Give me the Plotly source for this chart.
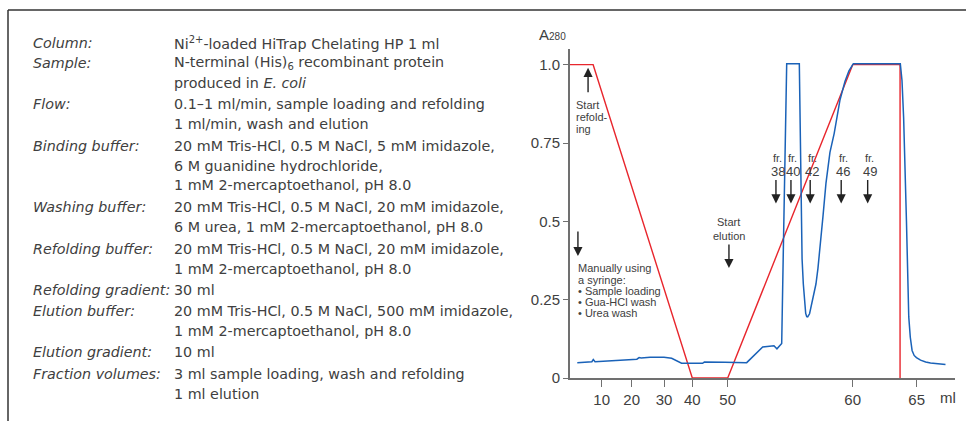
import numpy as np
import plotly.graph_objects as go

# ---------------- data ----------------
# broken (piecewise) x scale: ml -> axis units
X_BREAK_ML = [0, 10, 20, 30, 40, 50, 60, 65]
X_BREAK_POS = [0, 31.7, 61.7, 94, 122.3, 157.7, 282.7, 346.7]

TICK_ML = [10, 20, 30, 40, 50, 60, 65]
TICK_TEXT = ["10", "20", "30", "40", "50", "60", "65"]
Y_TICKS = [0, 0.25, 0.5, 0.75, 1.0]
Y_TICK_TEXT = ["0", "0.25", "0.5", "0.75", "1.0"]

# refolding / elution gradient (red)
GRADIENT_ML = [0, 7.3, 40, 50, 60, 63.7, 63.7]
GRADIENT_Y = [1.0, 1.0, 0.0, 0.0, 1.0, 1.0, 0.0]

# A280 trace (blue)
A280_ML = [2.3, 6.9, 7.35, 7.9, 20.4, 21.6, 22.3, 22.9, 25.7, 30.0, 32.7, 34.2, 36.2,
           42.9, 43.4, 49.2, 51.52, 52.8, 53.52, 53.7, 53.94, 54.24, 54.32, 54.45,
           54.58, 54.72, 55.73, 55.8, 55.86, 55.95, 56.05, 56.15, 56.24, 56.32, 56.4,
           56.55, 56.72, 56.9, 57.06, 57.22, 57.38, 57.62, 57.86, 58.18, 58.52, 58.75,
           58.98, 59.38, 59.7, 60.05, 63.72, 63.85, 63.98, 64.2, 64.38, 64.5, 64.64,
           64.8, 64.98, 65.3, 65.7, 66.08, 66.6, 67.25]
A280_Y = [0.049, 0.052, 0.059, 0.052, 0.059, 0.060, 0.065, 0.064, 0.066, 0.066, 0.063,
          0.055, 0.047, 0.047, 0.051, 0.050, 0.049, 0.099, 0.101, 0.103, 0.093, 0.104,
          0.11, 0.408, 0.727, 1.003, 1.003, 0.80, 0.535, 0.38, 0.30, 0.24, 0.206, 0.196,
          0.195, 0.205, 0.238, 0.27, 0.30, 0.35, 0.408, 0.515, 0.621, 0.72, 0.781, 0.84,
          0.887, 0.946, 0.98, 1.003, 1.003, 0.95, 0.83, 0.5, 0.195, 0.13, 0.088, 0.072,
          0.065, 0.057, 0.051, 0.048, 0.045, 0.043]

FRACTION_LABELS = ["38", "40", "42", "46", "49"]
FRACTION_ML = [53.86, 55.06, 56.6, 59.08, 61.17]

START_REFOLD_ML = 5.7
START_ELUTION_ML = 50.1
MANUAL_ML = 2.5

PARAM_ROWS = [
    ("Column:", ["Ni<sup>2+</sup>-loaded HiTrap Chelating HP 1 ml"]),
    ("Sample:", ["N-terminal (His)<sub>6</sub> recombinant protein", "produced in <i>E. coli</i>"]),
    ("Flow:", ["0.1–1 ml/min, sample loading and refolding", "1 ml/min, wash and elution"]),
    ("Binding buffer:", ["20 mM Tris-HCl, 0.5 M NaCl, 5 mM imidazole,", "6 M guanidine hydrochloride,",
                         "1 mM 2-mercaptoethanol, pH 8.0"]),
    ("Washing buffer:", ["20 mM Tris-HCl, 0.5 M NaCl, 20 mM imidazole,",
                         "6 M urea, 1 mM 2-mercaptoethanol, pH 8.0"]),
    ("Refolding buffer:", ["20 mM Tris-HCl, 0.5 M NaCl, 20 mM imidazole,", "1 mM 2-mercaptoethanol, pH 8.0"]),
    ("Refolding gradient:", ["30 ml"]),
    ("Elution buffer:", ["20 mM Tris-HCl, 0.5 M NaCl, 500 mM imidazole,", "1 mM 2-mercaptoethanol, pH 8.0"]),
    ("Elution gradient:", ["10 ml"]),
    ("Fraction volumes:", ["3 ml sample loading, wash and refolding", "1 ml elution"]),
]
ROW_Y = [43, 63, 104, 146, 207, 249, 290, 311, 352, 374]  # first line of each row (px)
LINE_STEP = 19.5


def to_pos(ml):
    ml = np.asarray(ml, dtype=float)
    pos = np.interp(ml, X_BREAK_ML, X_BREAK_POS)
    slope = (X_BREAK_POS[-1] - X_BREAK_POS[-2]) / (X_BREAK_ML[-1] - X_BREAK_ML[-2])
    return np.where(ml > X_BREAK_ML[-1], X_BREAK_POS[-1] + (ml - X_BREAK_ML[-1]) * slope, pos)


# ---------------- layout geometry ----------------
W, H = 966, 421
ML, MR, MT, MB = 570, 11, 49, 43
PW, PH = W - ML - MR, H - MT - MB


def PX(x):
    return (x - ML) / PW


def PY(y):
    return (H - MB - y) / PH


TXT = "#404040"
PANEL_FONT = "DejaVu Sans"
FONT = "Liberation Sans"
RED = "#e8262d"
BLUE = "#1a62b8"
AXIS = "#707070"

fig = go.Figure()
fig.add_trace(go.Scatter(x=to_pos(GRADIENT_ML), y=GRADIENT_Y, mode="lines",
                         line=dict(color=RED, width=1.4), hoverinfo="skip", cliponaxis=False))
fig.add_trace(go.Scatter(x=to_pos(A280_ML), y=A280_Y, mode="lines",
                         line=dict(color=BLUE, width=1.5), hoverinfo="skip", cliponaxis=False))

ann = []
PFONT = dict(family=PANEL_FONT, size=14.3, color=TXT)
# left parameter panel
for (label, lines), y0 in zip(PARAM_ROWS, ROW_Y):
    ann.append(dict(xref="paper", yref="paper", x=PX(31), y=PY(y0), text="<i>" + label + "</i>",
                    showarrow=False, xanchor="left", yanchor="middle", font=PFONT))
    for i, ln in enumerate(lines):
        ann.append(dict(xref="paper", yref="paper", x=PX(172), y=PY(y0 + i * LINE_STEP), text=ln,
                        showarrow=False, xanchor="left", yanchor="middle", font=PFONT))

# axis title A280 and unit
ann.append(dict(xref="paper", yref="paper", x=PX(537), y=PY(34),
                text="A<span style='font-size:10px'>280</span>", showarrow=False,
                xanchor="left", yanchor="middle", font=dict(family=FONT, size=15, color=TXT)))
ann.append(dict(xref="paper", yref="paper", x=PX(948), y=PY(398), text="ml", showarrow=False,
                xanchor="center", yanchor="middle", font=dict(family=FONT, size=15, color=TXT)))

SMALL = dict(family=FONT, size=11, color=TXT)
ARW = dict(showarrow=True, arrowhead=2, arrowsize=1.3, arrowwidth=1.4, arrowcolor="#222", text="")
# start refolding
ann.append(dict(xref="x", yref="y", x=float(to_pos(START_REFOLD_ML)), y=0.99, ax=0, ay=26, **ARW))
for t, yy in zip(["Start", "refold-", "ing"], [105, 117, 129]):
    ann.append(dict(xref="paper", yref="paper", x=PX(574), y=PY(yy), text=t, showarrow=False,
                    xanchor="left", yanchor="middle", font=SMALL))
# manual
ann.append(dict(xref="x", yref="y", x=float(to_pos(MANUAL_ML)), y=0.389, ax=0, ay=-26, **ARW))
for t, yy in zip(["Manually using", "a syringe:", "• Sample loading", "• Gua-HCl wash", "• Urea wash"],
                 [268, 280, 291, 302, 313]):
    ann.append(dict(xref="paper", yref="paper", x=PX(576), y=PY(yy), text=t, showarrow=False,
                    xanchor="left", yanchor="middle", font=SMALL))
# start elution
ann.append(dict(xref="x", yref="y", x=float(to_pos(START_ELUTION_ML)), y=0.351, ax=0, ay=-25, **ARW))
for t, yy in zip(["Start", "elution"], [222, 236]):
    ann.append(dict(xref="x", yref="paper", x=float(to_pos(START_ELUTION_ML)), y=PY(yy), text=t,
                    showarrow=False, xanchor="center", yanchor="middle", font=SMALL))
# fractions
for lab, fm in zip(FRACTION_LABELS, FRACTION_ML):
    xp = float(to_pos(fm))
    ann.append(dict(xref="x", yref="y", x=xp, y=0.557, ax=0, ay=-25, **ARW))
    ann.append(dict(xref="x", yref="paper", x=xp, xshift=2, y=PY(158), text="fr.", showarrow=False,
                    xanchor="center", yanchor="middle", font=dict(family=FONT, size=11, color=TXT)))
    ann.append(dict(xref="x", yref="paper", x=xp, xshift=2, y=PY(171), text=lab, showarrow=False,
                    xanchor="center", yanchor="middle", font=dict(family=FONT, size=13, color=TXT)))

shapes = [
    dict(type="line", xref="paper", yref="paper", x0=PX(8), x1=PX(966), y0=PY(10), y1=PY(10),
         line=dict(color="#333", width=1.5)),
    dict(type="line", xref="paper", yref="paper", x0=PX(8), x1=PX(8), y0=PY(10), y1=PY(425),
         line=dict(color="#333", width=1.5)),
]

fig.update_layout(
    width=W, height=H, margin=dict(l=ML, r=MR, t=MT, b=MB),
    paper_bgcolor="white", plot_bgcolor="white", showlegend=False,
    annotations=ann, shapes=shapes,
    font=dict(family=FONT, color=TXT),
    xaxis=dict(range=[0, PW], showgrid=False, zeroline=False, showline=True, linecolor=AXIS,
               linewidth=2, ticks="outside", ticklen=7, tickwidth=1.2, tickcolor=AXIS,
               tickvals=[float(v) for v in to_pos(TICK_ML)], ticktext=TICK_TEXT,
               tickfont=dict(family=FONT, size=15, color=TXT)),
    yaxis=dict(range=[0, 1.05], showgrid=False, zeroline=False, showline=True, linecolor=AXIS,
               linewidth=2, ticks="outside", ticklen=5, tickwidth=1.2, tickcolor=AXIS,
               tickvals=Y_TICKS, ticktext=Y_TICK_TEXT,
               tickfont=dict(family=FONT, size=15, color=TXT)),
)

fig.write_html("out.html", config={"displayModeBar": False},
               post_script="document.body.style.margin='0';document.body.style.overflow='hidden';")
